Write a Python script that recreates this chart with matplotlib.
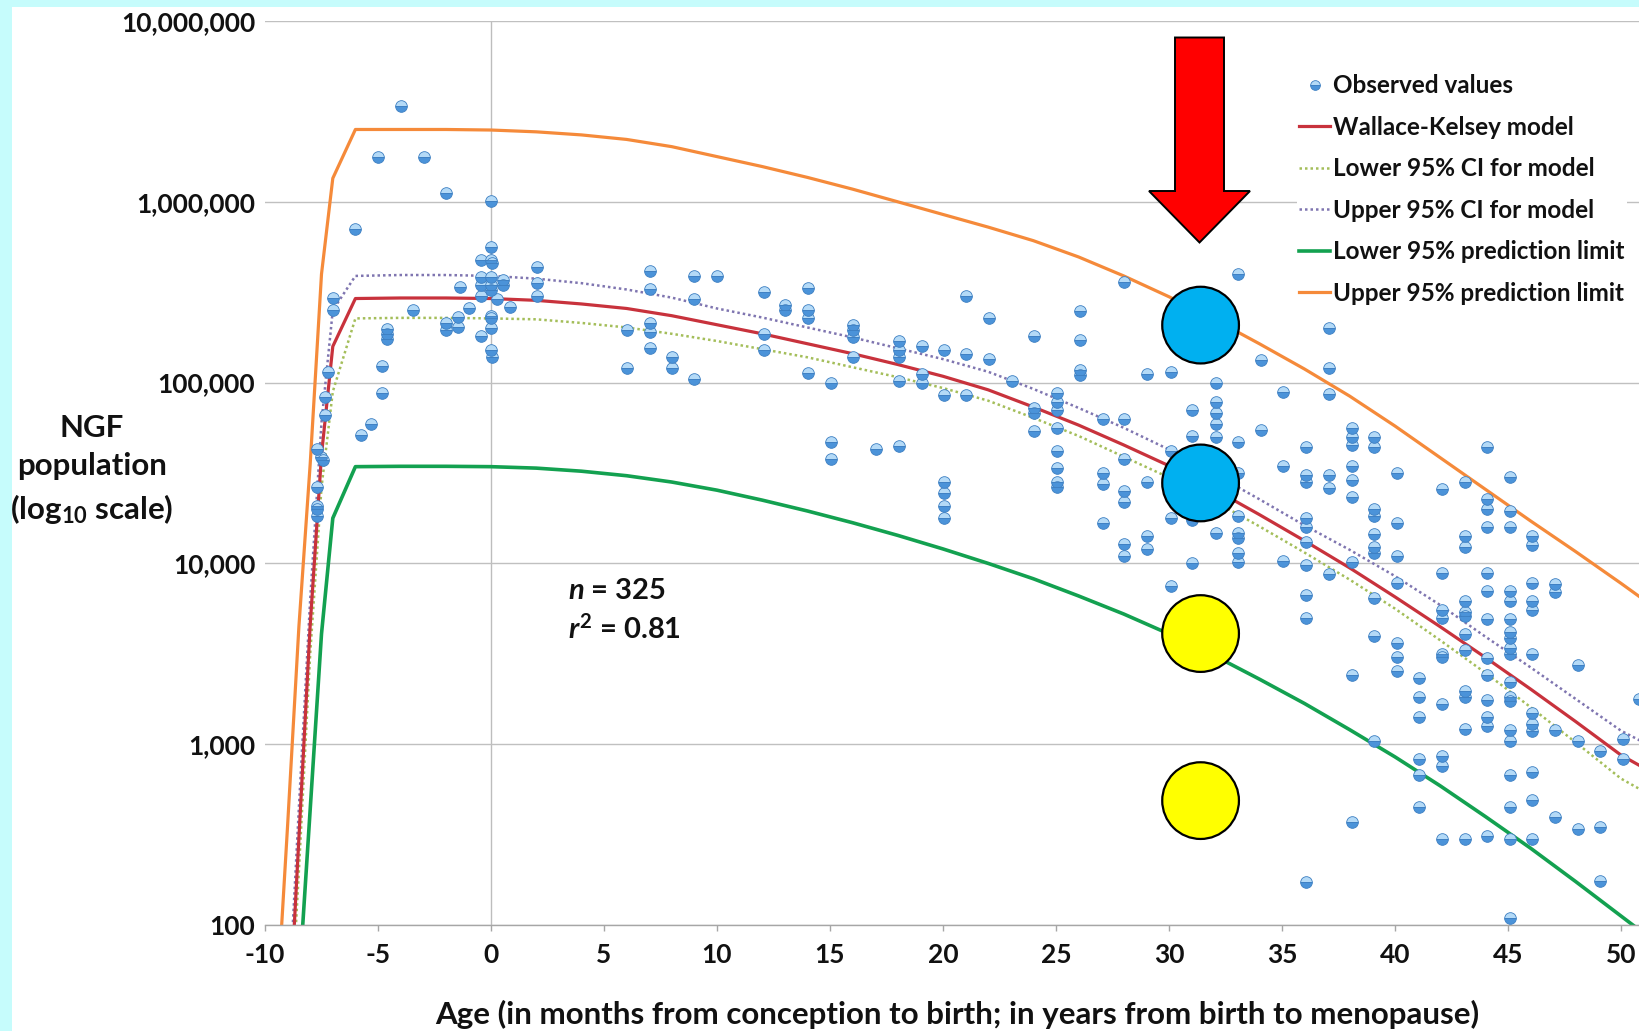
import matplotlib
matplotlib.use("Agg")
import matplotlib.pyplot as plt
from matplotlib.patches import Rectangle, Polygon
from matplotlib.lines import Line2D
import numpy as np

plt.rcParams['font.family'] = ['Lato', 'DejaVu Sans']
plt.rcParams['font.weight'] = 'bold'
plt.rcParams['axes.unicode_minus'] = False
plt.rcParams['mathtext.fontset'] = 'custom'
plt.rcParams['mathtext.rm'] = 'Lato:bold'
plt.rcParams['mathtext.it'] = 'Lato:bold:italic'
plt.rcParams['mathtext.bf'] = 'Lato:bold'

# ---------------- data ----------------
obs_age = [
    -7.68, -7.68, -7.68, -7.68, -7.68, -7.53, -7.43, -7.34, -7.35, -7.2, -6.98, -6.98, -6.0, -5.76, -5.31,
    -4.99, -4.84, -4.84, -4.62, -4.62, -4.62, -3.99, -3.47, -2.97, -1.99, -1.99, -1.99, -1.48, -1.48, -1.36,
    -0.97, -0.46, -0.46, -0.46, -0.46, -0.46,
    0, 0, 0, 0.05, 0, 0, 0, 0, 0, 0, 0, 0.05, 0.52, 0.52, 0.25, 0.84,
    2.02, 2.02, 2.02,
    6.0, 6.0, 7.04, 7.04, 7.04, 7.04, 7.04, 8.03, 8.03, 9.0, 9.0, 9.0, 10.0,
    12.06, 12.06, 12.06, 13.02, 13.02, 14.02, 14.02, 14.02, 14.02, 15.04, 15.04, 15.04,
    16.02, 16.02, 16.02, 16.02, 17.04, 18.04, 18.04, 18.04, 18.04, 18.04, 19.06, 19.06, 19.06,
    20.03, 20.03, 20.03, 20.03, 20.03, 20.03, 21.02, 21.02, 21.02, 22.05, 22.05, 23.06,
    24.05, 24.05, 24.05, 24.05, 25.05, 25.05, 25.05, 25.05, 25.05, 25.05, 25.05, 25.05,
    26.05, 26.05, 26.05, 26.05, 27.07, 27.07, 27.07, 27.07,
    28.03, 28.03, 28.03, 28.03, 28.03, 28.03, 28.03, 29.04, 29.04, 29.04, 29.04,
    30.07, 30.07, 30.07, 30.07, 31.03, 31.03, 31.03, 31.03,
    32.06, 32.06, 32.06, 32.06, 32.06, 32.06,
    33.07, 33.07, 33.07, 33.07, 33.07, 33.07, 33.07, 33.07,
    34.09, 34.09, 35.06, 35.06, 35.06,
    36.08, 36.08, 36.08, 36.08, 36.08, 36.08, 36.08, 36.08, 36.08, 36.08,
    37.08, 37.08, 37.08, 37.08, 37.08, 37.08,
    38.1, 38.1, 38.1, 38.1, 38.1, 38.1, 38.1, 38.1, 38.1,
    39.08, 39.08, 39.08, 39.08, 39.08, 39.08, 39.08, 39.08, 39.08, 39.08,
    40.07, 40.07, 40.07, 40.07, 40.07, 40.07, 40.07,
    41.07, 41.07, 41.07, 41.07, 41.07, 41.07,
    42.1, 42.1, 42.1, 42.1, 42.1, 42.1, 42.1, 42.1, 42.1, 42.1,
    43.09, 43.09, 43.09, 43.09, 43.09, 43.09, 43.09, 43.09, 43.09, 43.09, 43.09, 43.09,
    44.07, 44.07, 44.07, 44.07, 44.07, 44.07, 44.07, 44.07, 44.07, 44.07, 44.07, 44.07, 44.07,
    45.08, 45.08, 45.08, 45.08, 45.08, 45.08, 45.08, 45.08, 45.08, 45.08, 45.08, 45.08, 45.08,
    45.08, 45.08, 45.08, 45.08, 45.08, 45.08,
    46.06, 46.06, 46.06, 46.06, 46.06, 46.06, 46.06, 46.06, 46.06, 46.06, 46.06, 46.06,
    47.08, 47.08, 47.08, 47.08, 48.08, 48.08, 48.08, 49.08, 49.08, 49.08, 50.07, 50.07, 50.8,
]
obs_log10 = [
    4.42, 4.32, 4.30, 4.26, 4.63, 4.59, 4.57, 4.82, 4.92, 5.06, 5.40, 5.47, 5.85, 4.71, 4.77,
    6.25, 5.09, 4.94, 5.295, 5.27, 5.24, 6.53, 5.40, 6.25, 6.05, 5.33, 5.29, 5.365, 5.31, 5.53,
    5.41, 5.68, 5.585, 5.54, 5.48, 5.26,
    6.006, 5.75, 5.68, 5.66, 5.585, 5.54, 5.51, 5.37, 5.36, 5.30, 5.18, 5.14, 5.57, 5.54, 5.46, 5.42,
    5.64, 5.55, 5.48,
    5.29, 5.08, 5.62, 5.52, 5.33, 5.28, 5.19, 5.14, 5.08, 5.59, 5.46, 5.02, 5.59,
    5.50, 5.27, 5.18, 5.43, 5.40, 5.525, 5.40, 5.36, 5.055, 5.00, 4.67, 4.575,
    5.32, 5.29, 5.25, 5.14, 4.63, 5.23, 5.18, 5.14, 5.01, 4.65, 5.20, 5.05, 5.00,
    5.18, 4.93, 4.45, 4.39, 4.32, 4.25, 5.48, 5.16, 4.93, 5.36, 5.13, 5.01,
    5.26, 4.86, 4.83, 4.73, 4.94, 4.89, 4.85, 4.75, 4.62, 4.53, 4.45, 4.42,
    5.395, 5.235, 5.07, 5.04, 4.80, 4.50, 4.44, 4.225,
    5.555, 4.80, 4.58, 4.40, 4.34, 4.11, 4.04, 5.05, 4.45, 4.15, 4.08,
    5.06, 4.62, 4.25, 3.875, 4.85, 4.705, 4.24, 4.00,
    5.00, 4.895, 4.83, 4.77, 4.70, 4.17,
    5.60, 4.67, 4.50, 4.26, 4.17, 4.14, 4.06, 4.01,
    5.125, 4.74, 4.946, 4.54, 4.015,
    4.645, 4.49, 4.45, 4.25, 4.20, 4.12, 3.99, 3.825, 3.70, 2.24,
    5.30, 5.08, 4.935, 4.49, 4.415, 3.94,
    4.75, 4.70, 4.655, 4.54, 4.46, 4.37, 4.01, 3.38, 2.57,
    4.70, 4.645, 4.30, 4.26, 4.16, 4.09, 4.06, 3.81, 3.60, 3.02,
    4.50, 4.225, 4.04, 3.89, 3.56, 3.48, 3.405,
    3.365, 3.26, 3.15, 2.92, 2.83, 2.65,
    4.41, 3.945, 3.745, 3.70, 3.50, 3.48, 3.225, 2.935, 2.88, 2.475,
    4.45, 4.15, 4.09, 3.79, 3.73, 3.71, 3.61, 3.52, 3.295, 3.26, 3.085, 2.475,
    4.645, 4.355, 4.30, 4.20, 3.945, 3.85, 3.69, 3.475, 3.38, 3.245, 3.15, 3.10, 2.49,
    4.48, 4.29, 4.20, 3.85, 3.79, 3.69, 3.62, 3.585, 3.53, 3.50, 3.345, 3.26, 3.24,
    3.08, 3.015, 2.83, 2.65, 2.475, 2.04,
    4.15, 4.10, 3.89, 3.79, 3.745, 3.50, 3.175, 3.11, 3.075, 2.845, 2.69, 2.475,
    3.885, 3.84, 3.08, 2.60, 3.44, 3.02, 2.53, 2.965, 2.54, 2.245, 3.03, 2.92, 3.25,
]

curve_age = [-9.5, -9, -8.5, -8, -7.5, -7, -6, -4, -2, 0, 2, 4, 6, 8, 10, 12, 14, 16, 18, 20,
             22, 24, 26, 28, 30, 32, 34, 36, 38, 40, 42, 44, 46, 48, 50, 51]
model_log10 = [0.2, 1.3, 2.48, 3.66, 4.6, 5.2, 5.465, 5.468, 5.468, 5.465, 5.455, 5.435, 5.41, 5.37,
               5.32, 5.27, 5.215, 5.16, 5.10, 5.035, 4.96, 4.865, 4.765, 4.655, 4.54, 4.41, 4.27,
               4.125, 3.975, 3.815, 3.65, 3.48, 3.305, 3.125, 2.94, 2.87]
lower_ci_log10 = [0.0, 1.15, 2.3, 3.5, 4.42, 4.95, 5.355, 5.358, 5.358, 5.355, 5.35, 5.33, 5.305,
                  5.27, 5.23, 5.185, 5.14, 5.085, 5.03, 4.97, 4.9, 4.805, 4.705, 4.59, 4.475, 4.345,
                  4.205, 4.06, 3.91, 3.75, 3.575, 3.395, 3.205, 3.01, 2.81, 2.74]
upper_ci_log10 = [0.3, 1.45, 2.65, 3.8, 4.78, 5.40, 5.59, 5.595, 5.595, 5.59, 5.575, 5.55, 5.515,
                  5.47, 5.41, 5.36, 5.305, 5.25, 5.19, 5.13, 5.06, 4.965, 4.86, 4.75, 4.63, 4.495,
                  4.355, 4.21, 4.075, 3.93, 3.77, 3.595, 3.425, 3.25, 3.075, 3.01]
lower_pred_log10 = [-0.3, 0.7, 1.67, 2.64, 3.61, 4.25, 4.535, 4.537, 4.537, 4.535, 4.527, 4.51, 4.485,
                    4.45, 4.405, 4.35, 4.29, 4.225, 4.155, 4.08, 4.0, 3.915, 3.82, 3.72, 3.61, 3.49,
                    3.36, 3.225, 3.08, 2.93, 2.77, 2.60, 2.425, 2.24, 2.05, 1.955]
upper_pred_log10 = [1.5, 2.55, 3.65, 4.55, 5.6, 6.13, 6.40, 6.40, 6.40, 6.397, 6.387, 6.37, 6.345,
                    6.305, 6.25, 6.195, 6.135, 6.07, 6.0, 5.93, 5.86, 5.785, 5.695, 5.59, 5.475,
                    5.35, 5.215, 5.075, 4.925, 4.76, 4.585, 4.41, 4.235, 4.065, 3.89, 3.80]

highlight_age = [31.4, 31.4, 31.4, 31.4]
highlight_log10 = [5.318, 4.445, 3.612, 2.688]
highlight_colors = ['#00B0F0', '#00B0F0', '#FFFF00', '#FFFF00']

x_ticks = [-10, -5, 0, 5, 10, 15, 20, 25, 30, 35, 40, 45, 50]
x_ticklabels = ['-10', '-5', '0', '5', '10', '15', '20', '25', '30', '35', '40', '45', '50']
y_ticks = [1e2, 1e3, 1e4, 1e5, 1e6, 1e7]
y_ticklabels = ['100', '1,000', '10,000', '100,000', '1,000,000', '10,000,000']

legend_labels = ['Observed values', 'Wallace-Kelsey model', 'Lower 95% CI for model',
                 'Upper 95% CI for model', 'Lower 95% prediction limit', 'Upper 95% prediction limit']

# ---------------- figure ----------------
W, H = 1639, 1031
fig = plt.figure(figsize=(W / 100, H / 100), dpi=100)
fig.patch.set_facecolor('#C6FCFC')
fig.add_artist(Rectangle((12 / W, 0), 1 - 12 / W, 1 - 7 / H, transform=fig.transFigure,
                         facecolor='white', edgecolor='none', zorder=-10))

ax_left, ax_right = 265 / W, 1.0
ax_bottom, ax_top = 1 - 925 / H, 1 - 21 / H
ax = fig.add_axes([ax_left, ax_bottom, ax_right - ax_left, ax_top - ax_bottom])
ax.set_facecolor('white')
ax.set_yscale('log')
ax.set_xlim(-10, 50.8)
ax.set_ylim(100, 1e7)

for sp in ['left', 'right', 'top']:
    ax.spines[sp].set_visible(False)
ax.spines['bottom'].set_color('#A6A6A6')
ax.spines['bottom'].set_linewidth(1.0)

ax.set_yticks(y_ticks)
ax.set_yticklabels(y_ticklabels)
ax.yaxis.set_minor_locator(matplotlib.ticker.NullLocator())
ax.set_xticks(x_ticks)
ax.set_xticklabels(x_ticklabels)
ax.tick_params(axis='y', length=0, pad=7, labelsize=19, labelcolor='#111111')
ax.tick_params(axis='x', length=4, width=1, color='#A6A6A6', direction='out', pad=9,
               labelsize=19, labelcolor='#111111')
for lab in ax.get_xticklabels() + ax.get_yticklabels():
    lab.set_fontweight('bold')

ax.yaxis.grid(True, color='#C0C0C0', linewidth=1.0, zorder=0)
ax.set_axisbelow(True)
ax.axvline(0, color='#BDBDBD', linewidth=1.0, zorder=0.5)

ca = np.array(curve_age)
lw_solid = 2.3
ax.plot(ca, 10 ** np.array(upper_pred_log10), color='#F58A3A', lw=lw_solid, zorder=2,
        solid_joinstyle='round')
ax.plot(ca, 10 ** np.array(lower_pred_log10), color='#13A150', lw=lw_solid + 0.3, zorder=2,
        solid_joinstyle='round')
ax.plot(ca, 10 ** np.array(upper_ci_log10), color='#7F75B0', lw=1.8, ls=(0, (1, 1.2)), zorder=2)
ax.plot(ca, 10 ** np.array(lower_ci_log10), color='#A4BE5A', lw=1.8, ls=(0, (1, 1.2)), zorder=2)
ax.plot(ca, 10 ** np.array(model_log10), color='#C8323C', lw=lw_solid, zorder=2.5,
        solid_joinstyle='round')

ax.plot(obs_age, 10 ** np.array(obs_log10), linestyle='none', marker='o', markersize=8.4,
        fillstyle='top', markerfacecolor='#B4DAF7', markerfacecoloralt='#4B93D9',
        markeredgecolor='#3D7FC2', markeredgewidth=0.6, zorder=3, clip_on=True)

ax.scatter(highlight_age, 10 ** np.array(highlight_log10), s=3050, c=highlight_colors,
           edgecolors='black', linewidths=1.6, zorder=6)

ax.text(3.4, 10 ** 3.85, r'$n$ = 325', fontsize=21, fontweight='bold', ha='left', va='center',
        color='#111111', zorder=7)
ax.text(3.4, 10 ** 3.637, r'$r^2$ = 0.81', fontsize=21, fontweight='bold', ha='left', va='center',
        color='#111111', zorder=7)

# arrow (figure pixel coordinates, y from top)
arrow_px = [(1175, 37.5), (1224, 37.5), (1224, 191), (1250, 191), (1199.5, 242.5),
            (1149, 191), (1175, 191)]
arrow_fig = [(x / W, 1 - y / H) for x, y in arrow_px]
fig.add_artist(Polygon(arrow_fig, closed=True, transform=fig.transFigure, facecolor='#FF0000',
                       edgecolor='black', linewidth=1.4, zorder=20))

# legend
handles = [
    Line2D([], [], linestyle='none', marker='o', markersize=7, fillstyle='top',
           markerfacecolor='#B4DAF7', markerfacecoloralt='#4B93D9', markeredgecolor='#3D7FC2',
           markeredgewidth=0.6),
    Line2D([], [], color='#C8323C', lw=2.3),
    Line2D([], [], color='#A4BE5A', lw=1.8, ls=(0, (1, 1.2))),
    Line2D([], [], color='#7F75B0', lw=1.8, ls=(0, (1, 1.2))),
    Line2D([], [], color='#13A150', lw=2.6),
    Line2D([], [], color='#F58A3A', lw=2.3),
]
leg = ax.legend(handles, legend_labels, loc='upper left', bbox_to_anchor=(1297 / W, 1 - 72 / H),
                bbox_transform=fig.transFigure, frameon=True, fancybox=False, borderpad=0.1,
                borderaxespad=0, handlelength=1.25, handletextpad=0.12, labelspacing=0.76,
                prop={'family': ['Lato', 'DejaVu Sans'], 'weight': 'bold', 'size': 17.5})
leg.get_frame().set_facecolor('white')
leg.get_frame().set_edgecolor('none')
leg.get_frame().set_alpha(1)
leg.set_zorder(15)
for t in leg.get_texts():
    t.set_color('#111111')

fig.text(92 / W, 1 - 470 / H, 'NGF\npopulation\n(log$_{10}$ scale)', ha='center', va='center',
         multialignment='center', fontsize=22.5, fontweight='bold', linespacing=1.45, color='#111111')
fig.text(957 / W, 1 - 1014 / H,
         'Age (in months from conception to birth; in years from birth to menopause)',
         ha='center', va='center', fontsize=22.5, fontweight='bold', color='#111111')

fig.savefig('out.png', dpi=100, facecolor=fig.get_facecolor())
